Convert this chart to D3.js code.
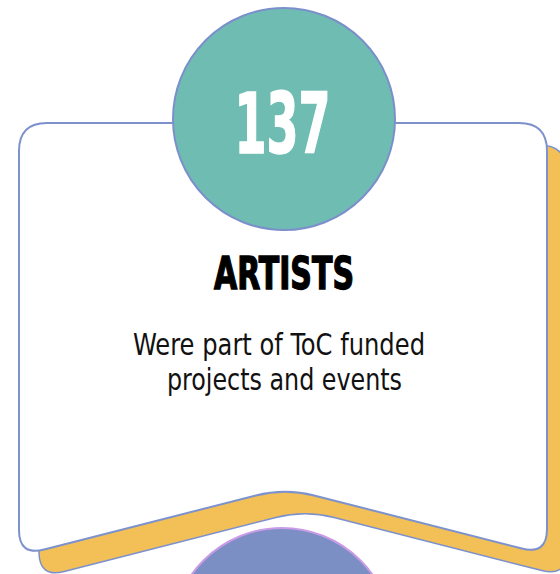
<!DOCTYPE html>
<html>
<head>
<meta charset="utf-8">
<script src="https://cdn.jsdelivr.net/npm/d3@7"></script>
<style>
  html, body { margin: 0; padding: 0; background: #fff; }
  svg { display: block; }
</style>
</head>
<body>
<svg id="mainsvg" width="560" height="574"></svg>
<script>
// values
const statValue = ["137"];
const statLabel = ["ARTISTS"];
const descLines = ["Were part of ToC funded", "projects and events"];

const W = 560, H = 574;
const svg = d3.select("#mainsvg");

// rounded polygon, t = tangent length at each corner
function roundedPath(pts, t) {
  const n = pts.length;
  let d = "";
  for (let i = 0; i < n; i++) {
    const p = pts[i], a = pts[(i - 1 + n) % n], b = pts[(i + 1) % n];
    const la = Math.hypot(a[0] - p[0], a[1] - p[1]);
    const lb = Math.hypot(b[0] - p[0], b[1] - p[1]);
    const p1 = [p[0] + (a[0] - p[0]) / la * t[i], p[1] + (a[1] - p[1]) / la * t[i]];
    const p2 = [p[0] + (b[0] - p[0]) / lb * t[i], p[1] + (b[1] - p[1]) / lb * t[i]];
    d += (i === 0 ? "M" : "L") + p1[0] + "," + p1[1];
    d += "Q" + p[0] + "," + p[1] + " " + p2[0] + "," + p2[1];
  }
  return d + "Z";
}

const x = d3.scaleLinear().domain([0, 1]).range([19, 547]);
const y = d3.scaleLinear().domain([0, 1]).range([123, 556]);
const peakX = 285, peakY = 488;

const cardPts = [
  [x(0), y(0)], [x(1), y(0)], [x(1), 555], [peakX, peakY], [x(0), y(1)]
];
const cardT = [28, 28, 26, 30, 26];
const cardD = roundedPath(cardPts, cardT);

// bottom circle (next card)
svg.append("circle")
  .attr("cx", 282).attr("cy", 639).attr("r", 111)
  .attr("fill", "#7b8fc4")
  .attr("stroke", "#c99be6")
  .attr("stroke-width", 2);

// yellow shadow
svg.append("path")
  .attr("d", cardD)
  .attr("transform", "translate(20,22)")
  .attr("fill", "#f2c057")
  .attr("stroke", "#7b90cc")
  .attr("stroke-width", 1.5);

// card
svg.append("path")
  .attr("d", cardD)
  .attr("fill", "#fff")
  .attr("stroke", "#7d92cc")
  .attr("stroke-width", 2);

// top circle
svg.append("circle")
  .attr("cx", 284).attr("cy", 119).attr("r", 111)
  .attr("fill", "#6fbdb2")
  .attr("stroke", "#7b8fcb")
  .attr("stroke-width", 2);

const condensed = "'Liberation Sans Narrow', 'DejaVu Sans Condensed', sans-serif";

svg.selectAll("text.value")
  .data(statValue)
  .join("text")
  .attr("class", "value")
  .attr("x", 282.5).attr("y", 153)
  .attr("text-anchor", "middle")
  .attr("font-family", condensed)
  .attr("font-weight", "bold")
  .attr("font-size", 83)
  .attr("textLength", 96)
  .attr("lengthAdjust", "spacingAndGlyphs")
  .attr("fill", "#fff")
  .attr("stroke", "#fff")
  .attr("stroke-width", 1.5)
  .text(d => d);

svg.selectAll("text.label")
  .data(statLabel)
  .join("text")
  .attr("class", "label")
  .attr("x", 284).attr("y", 289)
  .attr("text-anchor", "middle")
  .attr("font-family", condensed)
  .attr("font-weight", "bold")
  .attr("font-size", 44)
  .attr("textLength", 140)
  .attr("lengthAdjust", "spacingAndGlyphs")
  .attr("fill", "#000")
  .attr("stroke", "#000")
  .attr("stroke-width", 1.4)
  .text(d => d);

// description lines
const descWidths = [292, 235];
svg.selectAll("text.desc")
  .data(descLines)
  .join("text")
  .attr("class", "desc")
  .attr("x", (d, i) => i === 0 ? 279 : 284.5)
  .attr("y", (d, i) => 355 + i * 35)
  .attr("text-anchor", "middle")
  .attr("font-family", condensed)
  .attr("font-size", 30)
  .attr("textLength", (d, i) => descWidths[i])
  .attr("lengthAdjust", "spacingAndGlyphs")
  .attr("fill", "#111")
  .text(d => d);
</script>
</body>
</html>
